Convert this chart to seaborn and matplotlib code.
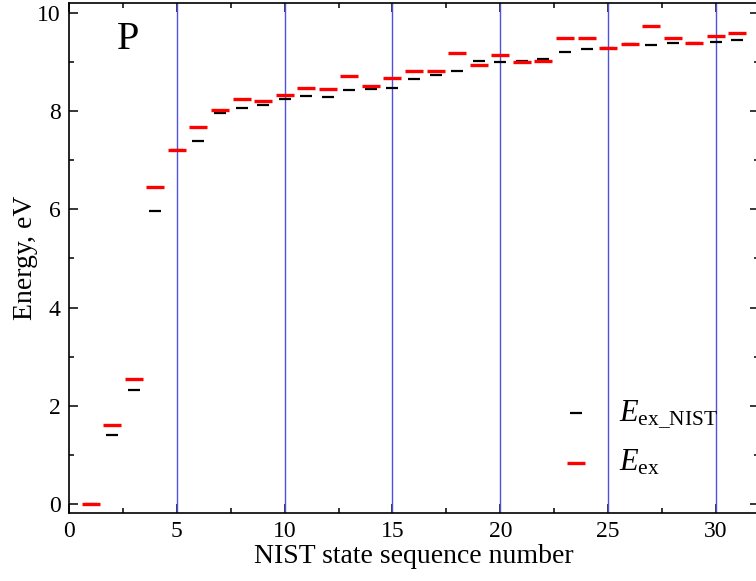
import matplotlib
matplotlib.use("Agg")
import matplotlib.pyplot as plt
import pandas as pd
import seaborn as sns
from matplotlib.ticker import MultipleLocator

# NIST state sequence numbers
states = list(range(1, 32))

# Excitation energies, eV
e_nist = [0.00, 1.41, 2.32, 5.97, 7.21, 7.39, 7.96, 8.07, 8.13, 8.24,
          8.30, 8.28, 8.43, 8.44, 8.48, 8.66, 8.74, 8.82, 9.01, 8.99,
          9.02, 9.07, 9.21, 9.26, 9.29, 9.36, 9.35, 9.39, 9.38, 9.40, 9.45]
e_calc = [0.00, 1.62, 2.55, 6.45, 7.21, 7.68, 8.03, 8.25, 8.21, 8.32,
          8.47, 8.45, 8.71, 8.52, 8.68, 8.82, 8.82, 9.19, 8.94, 9.14,
          8.99, 9.02, 9.48, 9.49, 9.29, 9.36, 9.73, 9.48, 9.38, 9.53, 9.59]

guide_lines = [5, 10, 15, 20, 25, 30]

sns.set_theme(style="ticks")
plt.rcParams["font.family"] = ["Liberation Serif", "DejaVu Serif"]
plt.rcParams["mathtext.fontset"] = "custom"
plt.rcParams["mathtext.rm"] = "Liberation Serif"
plt.rcParams["mathtext.it"] = "Liberation Serif:italic"
plt.rcParams["text.color"] = "black"
plt.rcParams["axes.labelcolor"] = "black"

df_nist = pd.DataFrame({"state": states, "energy": e_nist})
df_calc = pd.DataFrame({"state": states, "energy": e_calc})

fig = plt.figure(figsize=(7.56, 5.81), dpi=100)
ax = fig.add_axes([69 / 756, 68 / 581, 690 / 756, 510 / 581])

for xv in guide_lines:
    ax.axvline(xv, color="#5050e0", lw=1.0, zorder=1)

sns.scatterplot(data=df_nist, x="state", y="energy", marker="_", s=64,
                color="black", linewidth=1.6, ax=ax, zorder=2,
                label=r"$E_{\mathrm{ex\_NIST}}$")
sns.scatterplot(data=df_calc, x="state", y="energy", marker="_", s=150,
                color="#ff0000", linewidth=2.4, ax=ax, zorder=3,
                label=r"$E_{\mathrm{ex}}$")

ax.set_xlim(0, 32)
ax.set_ylim(-0.18, 10.2)
ax.xaxis.set_major_locator(MultipleLocator(5))
ax.xaxis.set_minor_locator(MultipleLocator(2.5))
ax.yaxis.set_major_locator(MultipleLocator(2))
ax.yaxis.set_minor_locator(MultipleLocator(1))
ax.tick_params(which="both", direction="in", top=True, right=True,
               width=1.1, labelsize=17, colors="black")
ax.tick_params(which="major", length=6.5, pad=6)
ax.tick_params(which="minor", length=3.5)
for sp in ax.spines.values():
    sp.set_linewidth(1.2)
    sp.set_color("black")

ax.set_xlabel("NIST state sequence number", fontsize=20, labelpad=1)
ax.set_ylabel("Energy, eV", fontsize=20, labelpad=-1)

ax.text(2.2, 9.45, "P", fontsize=29, va="center", ha="left")

leg = ax.legend(loc="lower right", bbox_to_anchor=(0.98, 0.015), frameon=False,
                fontsize=22, handlelength=1.0, handletextpad=0.9,
                labelspacing=0.6)

fig.savefig("out.png", dpi=100)
